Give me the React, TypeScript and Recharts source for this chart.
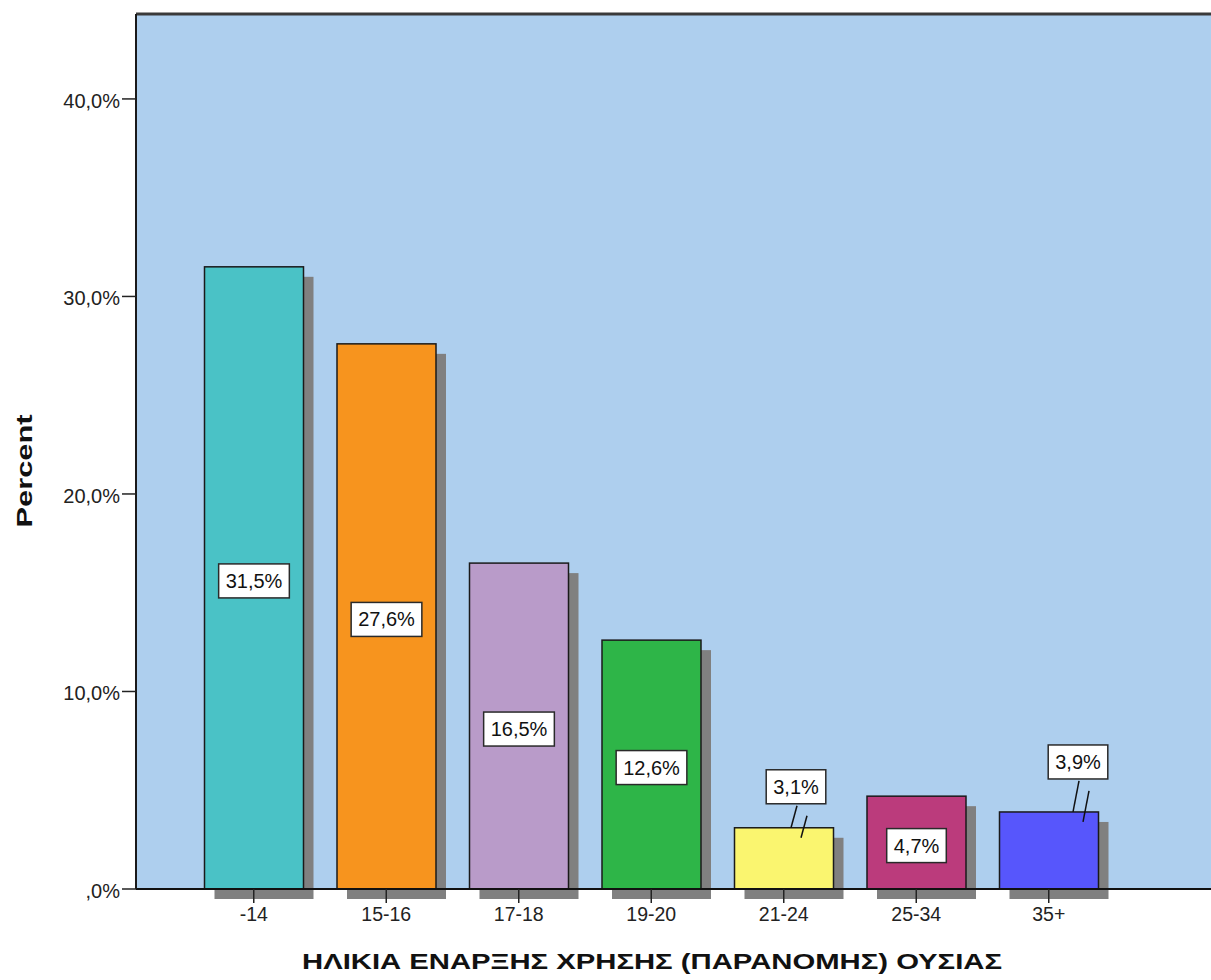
import React from "react";
import {
  BarChart,
  Bar,
  XAxis,
  YAxis,
  CartesianGrid,
  ReferenceLine,
  LabelList,
} from "recharts";

// age at first use (categories) and share of respondents
const categories = ["-14", "15-16", "17-18", "19-20", "21-24", "25-34", "35+"];
const percents = [31.5, 27.6, 16.5, 12.6, 3.1, 4.7, 3.9];
const barColors = ["#4AC2C6", "#F7941E", "#B99BC9", "#2EB548", "#FAF56F", "#BB3B7C", "#5756FC"];
const yTicks = [0, 10, 20, 30, 40];
const yMax = 44.3;

// callouts for bars too short to hold their label (dx from bar centre, gap above bar top)
const callouts: Record<string, { dx: number; gap: number }> = {
  "21-24": { dx: 12, gap: 24 },
  "35+": { dx: 29, gap: 33 },
};

const data = categories.map((c, i) => ({ age: c, pct: percents[i] }));

const FONT = "'Liberation Sans', Arial, sans-serif";

const fmt = (v: number) => {
  const s = v.toFixed(1).replace(".", ",");
  return (s.startsWith("0,") ? s.slice(1) : s) + "%";
};

// rough Arial width for digits , %
const textWidth = (s: string, size: number) =>
  [...s].reduce((w, ch) => w + (ch === "," ? 0.278 : ch === "%" ? 0.889 : 0.556), 0) * size;

function ShadowBar(props: any) {
  const { x, y, width, height, index } = props;
  return (
    <g>
      <rect x={x + 10} y={y + 10} width={width} height={height} fill="#808080" />
      <rect
        x={x}
        y={y}
        width={width}
        height={height}
        fill={barColors[index]}
        stroke="#1a1a1a"
        strokeWidth={1.5}
      />
    </g>
  );
}

function BoxLabel(props: any) {
  const { x, y, width, height, value, index } = props;
  const text = fmt(value);
  const w = textWidth(text, 20) + 14;
  const h = 34;
  const cx = x + width / 2;
  const co = callouts[categories[index]];
  let bx: number, by: number;
  let leader: React.ReactNode = null;
  if (co) {
    const bcx = cx + co.dx;
    bx = bcx - w / 2;
    by = y - co.gap - h;
    const x1 = bcx + 1;
    leader = (
      <g stroke="#111" strokeWidth={1.5}>
        <line x1={x1} y1={by + h + 2} x2={x1 - 6} y2={y} />
        <line x1={x1 + 10} y1={by + h + 12} x2={x1 + 4} y2={y + 10} />
      </g>
    );
  } else {
    bx = cx - w / 2;
    by = y + height / 2 + 3 - h / 2;
  }
  return (
    <g>
      {leader}
      <rect x={bx} y={by} width={w} height={h} fill="#fff" stroke="#2a2a2a" strokeWidth={1.5} />
      <text
        x={bx + w / 2}
        y={by + h / 2 + 7}
        textAnchor="middle"
        fontFamily={FONT}
        fontSize={20}
        fill="#111"
      >
        {text}
      </text>
    </g>
  );
}

function YTick(props: any) {
  const { x, y, payload } = props;
  return (
    <text x={x} y={y + 9} textAnchor="end" fontFamily={FONT} fontSize={20} fill="#222">
      {fmt(payload.value)}
    </text>
  );
}

function XTick(props: any) {
  const { x, y, payload } = props;
  return (
    <text x={x} y={y + 16} textAnchor="middle" fontFamily={FONT} fontSize={19.5} fill="#222">
      {payload.value}
    </text>
  );
}

export default function App() {
  return (
    <div
      style={{
        position: "fixed",
        left: 0,
        top: 0,
        width: 1211,
        height: 980,
        overflow: "hidden",
        background: "#fff",
      }}
    >
      <BarChart
        width={1240}
        height={980}
        data={data}
        margin={{ top: 14, right: 0, bottom: 0, left: 0 }}
      >
        <CartesianGrid fill="#AECFEE" stroke="none" horizontal={false} vertical={false} />
        <XAxis
          dataKey="age"
          height={91}
          padding={{ left: 51.5, right: 125 }}
          axisLine={false}
          tickSize={14}
          tickLine={{ stroke: "#222", strokeWidth: 1.5 }}
          tick={<XTick />}
          interval={0}
          label={{
            content: () => (
              <text
                x={652}
                y={969}
                textAnchor="middle"
                fontFamily={FONT}
                fontWeight="bold"
                fontSize={22.5}
                fill="#111"
                textLength={700}
                lengthAdjust="spacingAndGlyphs"
              >
                ΗΛΙΚΙΑ ΕΝΑΡΞΗΣ ΧΡΗΣΗΣ (ΠΑΡΑΝΟΜΗΣ) ΟΥΣΙΑΣ
              </text>
            ),
          }}
        />
        <YAxis
          width={136}
          domain={[0, yMax]}
          ticks={yTicks}
          axisLine={{ stroke: "#1a1a1a", strokeWidth: 2 }}
          tickSize={14}
          tickLine={{ stroke: "#222", strokeWidth: 1.5 }}
          tick={<YTick />}
          label={{
            content: () => (
              <text
                x={32}
                y={471}
                transform="rotate(-90 32 471)"
                textAnchor="middle"
                fontFamily={FONT}
                fontWeight="bold"
                fontSize={22}
                fill="#111"
                textLength={113}
                lengthAdjust="spacingAndGlyphs"
              >
                Percent
              </text>
            ),
          }}
        />
        <Bar dataKey="pct" barSize={99} shape={<ShadowBar />} isAnimationActive={false}>
          <LabelList dataKey="pct" content={<BoxLabel />} />
        </Bar>
        <ReferenceLine y={0} stroke="#111" strokeWidth={2} />
        <ReferenceLine y={yMax} stroke="#3a3a3a" strokeWidth={3} />
      </BarChart>
    </div>
  );
}
